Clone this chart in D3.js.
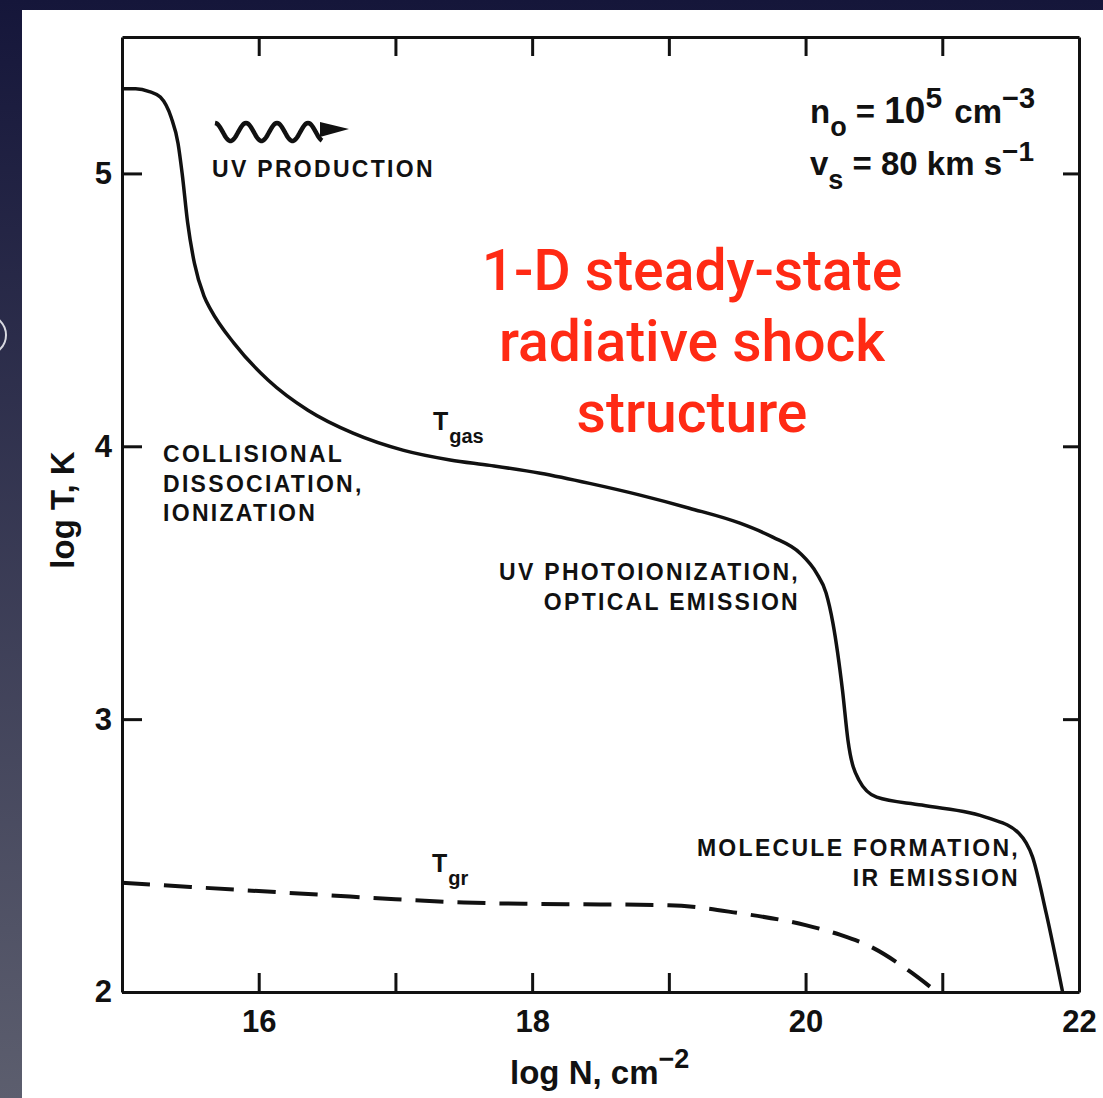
<!DOCTYPE html>
<html>
<head>
<meta charset="utf-8">
<script src="https://cdn.jsdelivr.net/npm/d3@7"></script>
<style>
  body { margin: 0; background: #1a1b38; }
  svg { display: block; }
</style>
</head>
<body>
<svg id="chart"></svg>
<script>
// Data (log N in cm^-2, log T in K)
const gasN = [15, 15.1, 15.2, 15.28, 15.36, 15.41, 15.44, 15.48, 15.53, 15.6, 15.65, 15.82, 16.07, 16.36, 16.69, 17.06, 17.4, 17.69, 18.06, 18.42, 18.79, 19.15, 19.52, 19.76, 19.96, 20.08, 20.15, 20.2, 20.27, 20.31, 20.39, 20.52, 20.85, 21.34, 21.56, 21.66, 21.76, 21.88];
const gasT = [5.31, 5.31, 5.30, 5.28, 5.205, 5.11, 5.0, 4.82, 4.67, 4.55, 4.5, 4.377, 4.242, 4.132, 4.048, 3.985, 3.95, 3.93, 3.901, 3.864, 3.821, 3.773, 3.718, 3.667, 3.608, 3.535, 3.462, 3.352, 3.106, 2.923, 2.777, 2.714, 2.685, 2.637, 2.582, 2.495, 2.289, 2.0];

const grN = [15, 15.5, 16, 16.5, 17, 17.5, 18, 18.5, 19, 19.5, 20, 20.25, 20.5, 20.75, 20.96];
const grT = [2.40, 2.385, 2.37, 2.355, 2.34, 2.328, 2.323, 2.321, 2.318, 2.29, 2.245, 2.21, 2.16, 2.08, 2.0];

const xTicks = [16, 17, 18, 19, 20, 21, 22];
const xLabels = [16, 18, 20, 22];
const yTicks = [2, 3, 4, 5];

const W = 1103, H = 1098;
const ink = "#111";
const font = "'Liberation Sans', Arial, sans-serif";

const svg = d3.select("#chart").attr("width", W).attr("height", H);

// slide background + white page
const defs = svg.append("defs");
const grad = defs.append("linearGradient").attr("id", "bg")
    .attr("x1", 0).attr("y1", 0).attr("x2", 0).attr("y2", 1);
grad.append("stop").attr("offset", "0%").attr("stop-color", "#15163a");
grad.append("stop").attr("offset", "100%").attr("stop-color", "#5c5e6e");
svg.append("rect").attr("width", W).attr("height", H).attr("fill", "url(#bg)");
svg.append("circle").attr("cx", -14).attr("cy", 335).attr("r", 20)
    .attr("fill", "none").attr("stroke", "#d8d9e0").attr("stroke-width", 2);
svg.append("rect").attr("x", 22).attr("y", 10).attr("width", W - 22).attr("height", H - 10).attr("fill", "#fff");

// scales
const x = d3.scaleLinear().domain([15, 22]).range([122, 1079]);
const y = d3.scaleLinear().domain([2, 5.5]).range([992, 37]);

// axes, ticks pointing inward
function styleAxis(g) {
    g.select(".domain").attr("stroke", ink).attr("stroke-width", 3);
    g.selectAll(".tick line").attr("stroke", ink).attr("stroke-width", 3);
    g.selectAll(".tick text").attr("fill", ink);
    g.attr("font-family", font).attr("font-size", 31).attr("font-weight", "bold");
}

svg.append("g")
    .attr("transform", `translate(0,${y(2)})`)
    .call(d3.axisBottom(x).tickValues(xTicks).tickSizeInner(-19).tickSizeOuter(0).tickPadding(18)
        .tickFormat(d => xLabels.includes(d) ? d : ""))
    .call(styleAxis);

svg.append("g")
    .attr("transform", `translate(0,${y(5.5)})`)
    .call(d3.axisTop(x).tickValues(xTicks.slice(0, -1)).tickSizeInner(-19).tickSizeOuter(0).tickFormat(""))
    .call(styleAxis);

svg.append("g")
    .attr("transform", `translate(${x(15)},0)`)
    .call(d3.axisLeft(y).tickValues(yTicks).tickSizeInner(-20).tickSizeOuter(0).tickPadding(10).tickFormat(d3.format("d")))
    .call(styleAxis);

svg.append("g")
    .attr("transform", `translate(${x(22)},0)`)
    .call(d3.axisRight(y).tickValues(yTicks.slice(1)).tickSizeInner(-16).tickSizeOuter(0).tickFormat(""))
    .call(styleAxis);

// curves
const line = d3.line().x(d => x(d[0])).y(d => y(d[1])).curve(d3.curveMonotoneX);

svg.append("path")
    .datum(gasN.map((n, i) => [n, gasT[i]]))
    .attr("d", line)
    .attr("fill", "none").attr("stroke", ink).attr("stroke-width", 3.5)
    .attr("stroke-linejoin", "round");

svg.append("path")
    .datum(grN.map((n, i) => [n, grT[i]]))
    .attr("d", line)
    .attr("fill", "none").attr("stroke", ink).attr("stroke-width", 4)
    .attr("stroke-dasharray", "28,14");

// axis titles
svg.append("text")
    .attr("x", 510).attr("y", 1084)
    .attr("font-family", font).attr("font-size", 33).attr("font-weight", "bold").attr("fill", ink)
    .text("log N, cm")
    .append("tspan").attr("dy", -16).attr("font-size", 27).text("\u22122");

svg.append("text")
    .attr("transform", "translate(74,510) rotate(-90)")
    .attr("text-anchor", "middle")
    .attr("font-family", font).attr("font-size", 33).attr("font-weight", "bold").attr("fill", ink)
    .text("log T, K");

// annotations
function label(lines, xp, y0, anchor) {
    const t = svg.append("text")
        .attr("font-family", font).attr("font-size", 23).attr("font-weight", "bold")
        .attr("letter-spacing", 2.3).attr("fill", ink).attr("text-anchor", anchor || "start");
    lines.forEach((s, i) => {
        t.append("tspan").attr("x", xp).attr("y", y0 + i * 29.5).text(s);
    });
}
label(["UV PRODUCTION"], 212, 177);
label(["COLLISIONAL", "DISSOCIATION,", "IONIZATION"], 163, 462);
label(["UV PHOTOIONIZATION,", "OPTICAL EMISSION"], 800, 580, "end");
label(["MOLECULE FORMATION,", "IR EMISSION"], 1020, 856, "end");

// T_gas, T_gr
function tempLabel(sub, xp, yb) {
    const t = svg.append("text").attr("x", xp).attr("y", yb)
        .attr("font-family", font).attr("font-size", 25).attr("font-weight", "bold").attr("fill", ink);
    t.append("tspan").text("T");
    t.append("tspan").attr("dx", 1).attr("dy", 13).attr("font-size", 20).text(sub);
}
tempLabel("gas", 433, 430);
tempLabel("gr", 432, 872);

// wavy UV arrow
const wave = d3.range(0, 108, 1).map(i => [215 + i, 132 - 9 * Math.cos(2 * Math.PI * i / 31)]);
svg.append("path")
    .attr("d", d3.line()(wave))
    .attr("fill", "none").attr("stroke", ink).attr("stroke-width", 4.5);
svg.append("path")
    .attr("d", "M320,122 L349,129 L320,137 Z")
    .attr("fill", ink);

// shock parameters
const p1 = svg.append("text").attr("x", 810).attr("y", 123)
    .attr("font-family", font).attr("font-size", 33).attr("font-weight", "bold").attr("fill", ink);
p1.append("tspan").text("n");
p1.append("tspan").attr("dy", 13).attr("font-size", 27).text("o");
p1.append("tspan").attr("dy", -13).text(" = ");
p1.append("tspan").attr("font-size", 37).text("10");
p1.append("tspan").attr("dy", -15).attr("font-size", 30).text("5");
p1.append("tspan").attr("dy", 15).attr("dx", 3).text(" cm");
p1.append("tspan").attr("dy", -15).attr("font-size", 29).text("\u22123");

const p2 = svg.append("text").attr("x", 810).attr("y", 175)
    .attr("font-family", font).attr("font-size", 33).attr("font-weight", "bold").attr("fill", ink);
p2.append("tspan").text("v");
p2.append("tspan").attr("dy", 14).attr("font-size", 27).text("s");
p2.append("tspan").attr("dy", -14).text(" = 80 km s");
p2.append("tspan").attr("dy", -14).attr("font-size", 28).text("\u22121");

// red slide title
const title = svg.append("text")
    .attr("text-anchor", "middle")
    .attr("font-family", "Roboto, 'Liberation Sans', sans-serif").attr("font-size", 57)
    .attr("font-weight", 500).attr("fill", "#ff2a14");
["1-D steady-state", "radiative shock", "structure"].forEach((s, i) => {
    title.append("tspan").attr("x", 692).attr("y", 290 + i * 71).text(s);
});
</script>
</body>
</html>
